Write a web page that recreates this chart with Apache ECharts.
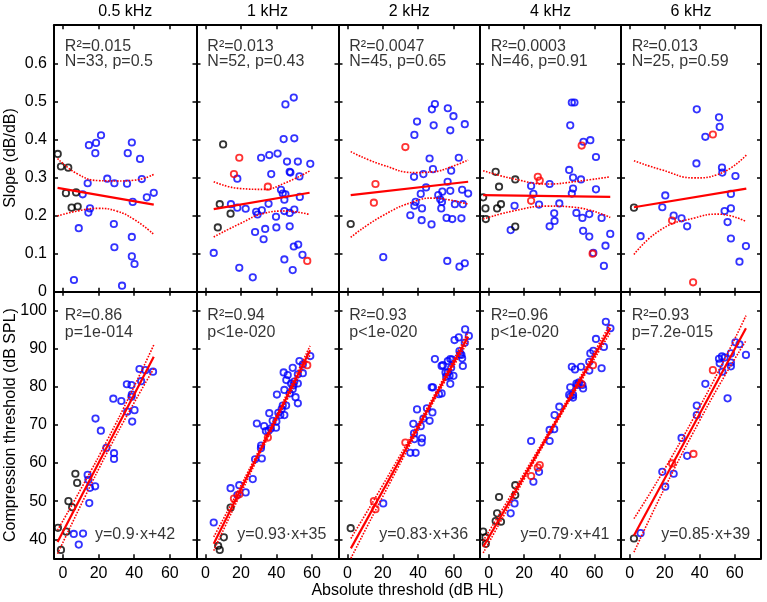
<!DOCTYPE html>
<html><head><meta charset="utf-8">
<script src="https://cdn.jsdelivr.net/npm/echarts@6/dist/echarts.min.js"></script>
<style>html,body{margin:0;padding:0;background:#fff}#c{width:767px;height:602px}</style>
</head><body><div id="c"></div>
<script>
const frequencies = ['0.5 kHz','1 kHz','2 kHz','4 kHz','6 kHz'];

// ---------- Top row: slope (dB/dB) vs absolute threshold (dB HL) ----------
const slopeBlack = [
  [[-2.9,0.362],[-1.1,0.329],[3.0,0.326],[1.7,0.259],[7.4,0.261],[4.9,0.221],[8.3,0.224]],
  [[10.0,0.387],[8.1,0.230],[14.2,0.205],[7.0,0.169]],
  [[1.9,0.178]],
  [[-3.2,0.248],[-1.9,0.219],[-1.7,0.191],[3.9,0.315],[5.8,0.276],[4.7,0.219],[6.9,0.230],[15.0,0.295],[15.0,0.171]],
  [[2.4,0.221]]
];
const slopeRed = [
  [],
  [[19.1,0.352],[16.1,0.309],[35.2,0.276],[57.4,0.081]],
  [[15.9,0.283],[15.0,0.234],[32.8,0.380]],
  [[27.8,0.302],[28.9,0.292],[24.0,0.239],[52.7,0.384],[58.9,0.100]],
  [[47.5,0.413],[24.2,0.187],[36.2,0.025]]
];
const slopeBlue = [
  [[6.2,0.031],[8.9,0.167],[11.1,0.256],[14.3,0.208],[15.2,0.219],[13.9,0.285],[14.6,0.385],[18.6,0.391],[18.2,0.364],[21.4,0.411],[24.9,0.297],[28.9,0.285],[28.6,0.178],[28.9,0.117],[33.2,0.016],[36.4,0.364],[38.7,0.392],[36.0,0.284],[39.2,0.236],[38.7,0.144],[38.7,0.093],[40.2,0.073],[43.3,0.349],[44.3,0.296],[47.1,0.248],[51.0,0.260]],
  [[4.7,0.102],[14.4,0.230],[18.0,0.221],[22.7,0.218],[18.0,0.297],[19.1,0.063],[26.7,0.038],[28.6,0.210],[29.4,0.203],[31.8,0.214],[28.0,0.157],[33.7,0.165],[32.8,0.138],[31.4,0.352],[36.0,0.359],[40.7,0.363],[37.1,0.309],[35.6,0.231],[39.8,0.197],[40.0,0.169],[42.6,0.268],[43.6,0.258],[45.1,0.256],[44.5,0.242],[44.5,0.212],[47.5,0.207],[50.1,0.216],[47.5,0.172],[44.1,0.401],[50.1,0.403],[45.1,0.492],[49.8,0.510],[46.0,0.342],[52.1,0.342],[47.5,0.315],[47.9,0.313],[53.0,0.303],[53.2,0.249],[59.1,0.336],[49.8,0.119],[52.3,0.124],[54.7,0.097],[44.5,0.085],[49.2,0.057]],
  [[20.3,0.091],[35.6,0.201],[37.9,0.226],[38.6,0.236],[37.7,0.302],[37.9,0.412],[39.4,0.447],[42.2,0.219],[42.0,0.188],[41.5,0.257],[43.0,0.309],[44.5,0.274],[46.5,0.350],[48.4,0.322],[47.6,0.177],[47.8,0.479],[49.5,0.493],[48.8,0.437],[51.4,0.254],[52.5,0.243],[53.7,0.263],[53.5,0.236],[53.1,0.219],[56.7,0.289],[56.8,0.482],[58.2,0.424],[58.2,0.265],[58.7,0.318],[56.1,0.194],[59.3,0.191],[60.0,0.461],[60.8,0.230],[56.5,0.081],[63.0,0.352],[64.5,0.193],[64.9,0.268],[65.3,0.230],[66.4,0.440],[68.3,0.258],[63.4,0.066],[66.4,0.075]],
  [[12.4,0.162],[14.6,0.226],[24.0,0.278],[25.3,0.257],[28.5,0.229],[34.5,0.283],[40.0,0.232],[37.1,0.206],[37.3,0.186],[34.5,0.172],[45.6,0.320],[47.8,0.300],[47.1,0.497],[48.6,0.497],[46.2,0.437],[47.8,0.271],[47.1,0.258],[49.7,0.207],[52.3,0.295],[53.1,0.194],[53.5,0.160],[53.7,0.394],[57.6,0.398],[57.0,0.204],[57.0,0.145],[59.3,0.102],[60.8,0.354],[60.8,0.269],[64.0,0.194],[68.9,0.152],[66.2,0.121],[65.3,0.068]],
  [[6.2,0.146],[20.3,0.253],[18.6,0.222],[25.1,0.200],[29.6,0.193],[32.8,0.172],[38.3,0.479],[38.1,0.337],[43.2,0.407],[51.0,0.458],[51.4,0.433],[52.7,0.326],[52.9,0.313],[60.4,0.304],[57.8,0.257],[54.2,0.212],[57.8,0.219],[55.9,0.183],[57.8,0.140],[66.4,0.120],[62.7,0.079]]
];
const slopeFitX = [[-3,51],[4.7,58.7],[1.9,68.3],[-3.2,68.9],[2.4,66.6]];
const slopeFitY = [[0.273,0.229],[0.217,0.260],[0.254,0.289],[0.254,0.249],[0.222,0.271]];
const slopeBandX = [[-3,8,20,30,40,51],[4.7,20,33,44.5,58.7],[1.9,20,39,48.4,58,68.3],[-3.2,14.6,33.4,48.4,68.9],[2.4,18.4,37.1,50.3,66.6]];
const slopeBandHi = [[0.350,0.310,0.292,0.291,0.293,0.308],[0.289,0.271,0.269,0.285,0.317],[0.368,0.333,0.313,0.315,0.327,0.346],[0.318,0.296,0.283,0.289,0.302],[0.344,0.320,0.299,0.308,0.359]];
const slopeBandLo = [[0.199,0.212,0.219,0.212,0.190,0.151],[0.144,0.180,0.206,0.212,0.203],[0.143,0.200,0.239,0.246,0.241,0.230],[0.191,0.213,0.225,0.222,0.195],[0.098,0.165,0.194,0.204,0.184]];
const slopeR2 = ['R²=0.015','R²=0.013','R²=0.0047','R²=0.0003','R²=0.013'];
const slopeNP = ['N=33, p=0.5','N=52, p=0.43','N=45, p=0.65','N=46, p=0.91','N=25, p=0.59'];

// ---------- Bottom row: compression threshold (dB SPL) vs absolute threshold ----------
const ctBlack = [
  [[-2.8,43.0],[-1.1,37.2],[1.9,42.0],[3.1,50.0],[5.2,48.4],[7.0,57.2],[8.0,54.8]],
  [[7.2,38.3],[8.1,37.2],[10.4,40.5],[14.2,48.3]],
  [[1.9,42.9]],
  [[-3.2,42.0],[-1.9,40.5],[-1.7,38.8],[3.9,44.8],[5.8,51.1],[4.7,46.8],[6.9,44.6],[15.0,54.2],[15.0,51.6]],
  [[2.4,40.2]]
];
const ctRed = [
  [],
  [[19.1,51.8],[16.1,50.7],[35.2,66.7],[57.4,85.7]],
  [[15.0,50.0],[15.9,47.9],[32.8,65.4]],
  [[27.8,58.8],[28.9,59.5],[24.0,56.6],[52.5,80.8],[59.1,85.7]],
  [[47.5,84.4],[24.2,59.9],[36.4,62.4]]
];
const ctBlue = [
  [[6.1,41.4],[11.3,41.5],[8.9,38.6],[13.9,56.9],[14.3,55.6],[15.2,53.5],[18.1,53.9],[14.8,49.5],[18.3,71.7],[21.3,68.5],[24.4,64.0],[28.7,62.6],[28.7,61.1],[28.3,76.9],[32.8,76.3],[35.9,80.7],[36.1,73.5],[38.5,80.5],[38.7,78.0],[38.5,77.4],[38.9,70.9],[40.2,73.9],[43.0,84.7],[43.9,81.5],[46.3,84.4],[50.6,84.0]],
  [[4.7,44.4],[14.2,53.4],[19.1,54.2],[22.7,52.3],[18.0,51.6],[26.7,55.8],[28.0,61.0],[31.8,61.2],[31.4,64.6],[29.0,70.4],[33.1,69.7],[36.0,73.1],[35.6,68.5],[37.9,71.1],[39.8,69.3],[40.0,70.9],[40.3,78.0],[43.0,74.2],[44.1,83.8],[44.5,72.6],[45.5,75.1],[44.5,79.2],[46.4,83.1],[47.5,78.3],[49.2,85.0],[50.1,81.4],[49.2,79.4],[50.8,77.3],[52.1,75.7],[52.1,80.9],[52.1,83.3],[54.9,83.6],[53.0,86.8],[54.9,85.9],[59.1,88.1],[48.3,80.9],[43.6,75.1],[34.1,68.4],[41.1,73.2],[49.6,80.4],[42.2,72.6],[45.6,81.8],[36.9,69.1],[31.3,63.9]],
  [[20.3,49.4],[35.6,62.7],[38.6,62.7],[37.9,66.3],[37.7,67.8],[39.4,74.1],[37.3,70.3],[42.2,66.5],[42.0,65.4],[41.5,69.7],[43.0,71.7],[45.0,74.4],[46.5,71.1],[48.1,73.3],[47.7,79.9],[48.4,79.9],[49.5,87.3],[51.8,78.1],[53.3,78.3],[53.3,85.5],[54.0,85.7],[56.8,86.8],[58.2,87.3],[58.7,85.0],[57.8,82.9],[58.2,80.8],[60.0,82.9],[55.9,82.7],[55.5,83.8],[56.8,83.8],[59.3,87.2],[60.6,92.3],[63.0,93.0],[63.8,88.6],[64.9,87.5],[65.3,85.5],[66.6,95.1],[66.4,91.6],[68.7,93.4],[63.4,89.4],[64.5,88.4]],
  [[12.4,46.8],[14.6,49.4],[24.0,65.8],[25.3,55.1],[28.5,57.7],[34.5,65.8],[34.5,68.7],[37.1,68.9],[37.3,72.6],[40.0,74.8],[45.6,77.9],[46.2,79.9],[47.8,77.2],[47.1,85.3],[48.9,84.6],[47.8,77.9],[49.7,80.9],[52.3,85.3],[53.1,80.5],[53.5,79.6],[57.0,86.6],[57.0,84.3],[57.6,88.8],[59.3,89.5],[60.8,92.6],[64.0,84.9],[65.3,90.5],[66.4,97.1],[69.0,95.4],[50.3,80.5],[51.2,81.2],[46.5,77.6]],
  [[6.2,41.6],[18.6,57.7],[20.3,53.8],[25.1,57.2],[29.6,66.6],[32.8,61.9],[38.3,72.6],[38.3,75.1],[43.2,80.8],[51.0,87.4],[51.4,86.2],[52.7,88.0],[52.9,84.0],[54.2,87.7],[55.9,77.0],[57.8,88.8],[57.8,86.4],[57.8,85.4],[60.4,91.7],[62.7,91.2],[66.4,88.4]]
];
const ctFitX = [[-3,51],[4.7,59],[2,68.3],[-3.2,69],[2.4,66.4]];
const ctFitY = [[39.3,87.9],[38.8,89.6],[37.6,93.2],[38.0,95.5],[41.0,95.4]];
const ctBandX = [[-3,12,25,38,51],[4.7,20,38,59],[2,20,48,68.3],[-3.2,20,45,69],[2.4,20,40,55,66.4]];
const ctBandHi = [[42.4,54.8,66.1,78.2,91.0],[40.6,54.1,70.65,90.8],[40.2,54.2,76.9,94.4],[39.6,57.3,77.0,96.7],[45.4,58.5,74.8,88.0,98.7]];
const ctBandLo = [[36.2,50.8,62.9,74.2,84.8],[37.0,52.1,69.25,88.4],[35.0,51.2,75.5,92.0],[36.4,55.7,75.8,94.3],[36.6,53.5,71.2,83.5,92.1]];
const ctR2 = ['R²=0.86','R²=0.94','R²=0.93','R²=0.96','R²=0.93'];
const ctP = ['p=1e-014','p<1e-020','p<1e-020','p<1e-020','p=7.2e-015'];
const ctEq = ['y=0.9·x+42','y=0.93·x+35','y=0.83·x+36','y=0.79·x+41','y=0.85·x+39'];

const xLabel = 'Absolute threshold (dB HL)';
const yLabelTop = 'Slope (dB/dB)';
const yLabelBottom = 'Compression threshold (dB SPL)';

// ---------- layout / styles ----------
const FONT = '"Liberation Sans", Arial, Helvetica, sans-serif';
const BLUE = '#0000ff', RED = '#ff0000', BLACK = '#000000';
const colLeft = [54, 196.5, 338.5, 480, 621];
const colRight = [196.5, 338.5, 480, 621, 761];
const rowTop = [25.2, 291.7];
const rowH = 266.6;

const grids = [], xAxes = [], yAxes = [], series = [];
const zip = (xs, ys) => xs.map((x, i) => [x, ys[i]]);

function axisCommon(showLabel, extra) {
  return Object.assign({
    type: 'value',
    axisLine: {show: true, onZero: false, lineStyle: {color: BLACK, width: 2}},
    axisTick: {show: true, inside: true, length: 4, lineStyle: {color: BLACK, width: 1.5}},
    splitLine: {show: false},
    axisLabel: {show: showLabel, color: BLACK, fontSize: 16, fontFamily: FONT, margin: 7,
                showMinLabel: false, showMaxLabel: false}
  }, extra);
}

for (let r = 0; r < 2; r++) {
  for (let c = 0; c < 5; c++) {
    const g = r * 5 + c;
    grids.push({left: colLeft[c], top: rowTop[r], width: colRight[c] - colLeft[c], height: rowH});
    const xr = {min: -5, max: 75, splitNumber: 4, gridIndex: g};
    xAxes.push(axisCommon(r === 1, Object.assign({position: 'bottom'}, xr)));
    xAxes.push(axisCommon(false, Object.assign({position: 'top'}, xr)));
    const yr = r === 0 ? {min: 0, max: 0.7, interval: 0.1, gridIndex: g}
                       : {min: 35, max: 105, splitNumber: 7, gridIndex: g};
    const yl = axisCommon(c === 0, Object.assign({position: 'left'}, yr));
    if (r === 0) { yl.axisLabel.showMinLabel = true; }
    yAxes.push(yl);
    yAxes.push(axisCommon(false, Object.assign({position: 'right'}, yr)));

    const black = r === 0 ? slopeBlack[c] : ctBlack[c];
    const red = r === 0 ? slopeRed[c] : ctRed[c];
    const blue = r === 0 ? slopeBlue[c] : ctBlue[c];
    const ax = {xAxisIndex: 2 * g, yAxisIndex: 2 * g};
    [[blue, BLUE], [black, BLACK], [red, RED]].forEach(([d, col]) => {
      if (!d.length) return;
      series.push(Object.assign({
        type: 'scatter', data: d, symbol: 'circle', symbolSize: 6.4, silent: true,
        itemStyle: {color: 'rgba(0,0,0,0)', borderColor: col, borderWidth: 1.8}
      }, ax));
    });
    const fx = r === 0 ? slopeFitX[c] : ctFitX[c];
    const fy = r === 0 ? slopeFitY[c] : ctFitY[c];
    const bx = r === 0 ? slopeBandX[c] : ctBandX[c];
    const bh = r === 0 ? slopeBandHi[c] : ctBandHi[c];
    const bl = r === 0 ? slopeBandLo[c] : ctBandLo[c];
    series.push(Object.assign({type: 'line', data: zip(fx, fy), showSymbol: false, silent: true,
      lineStyle: {color: RED, width: 2.2}}, ax));
    [bh, bl].forEach(b => series.push(Object.assign({type: 'line', data: zip(bx, b), showSymbol: false,
      silent: true, smooth: 0.5, lineStyle: {color: RED, width: 1.6, type: [1.6, 1.4]}}, ax)));

    const lab = (txt) => ({show: true, position: 'right', distance: 0, formatter: txt,
      color: BLACK, fontSize: 16, fontFamily: FONT, align: 'left', verticalAlign: 'middle'});
    const ann = r === 0
      ? [[1.1, 0.6436, slopeR2[c]], [1.1, 0.6041, slopeNP[c]]]
      : [[1.1, 98.8, ctR2[c]], [1.1, 94.2, ctP[c]], [18, 41.3, ctEq[c]]];
    series.push(Object.assign({type: 'scatter', symbolSize: 0, silent: true,
      data: ann.map(a => ({value: [a[0], a[1]], label: lab(a[2])}))}, ax));
  }
}

const graphics = [];
frequencies.forEach((f, c) => graphics.push({type: 'text', x: (colLeft[c] + colRight[c]) / 2, y: 12,
  style: {text: f, fill: BLACK, fontSize: 16, fontFamily: FONT, textAlign: 'center', textVerticalAlign: 'middle'}}));
graphics.push({type: 'text', x: 11, y: 158, rotation: Math.PI / 2,
  style: {text: yLabelTop, fill: BLACK, fontSize: 16, fontFamily: FONT, textAlign: 'center', textVerticalAlign: 'middle'}});
graphics.push({type: 'text', x: 11, y: 425, rotation: Math.PI / 2,
  style: {text: yLabelBottom, fill: BLACK, fontSize: 16, fontFamily: FONT, textAlign: 'center', textVerticalAlign: 'middle'}});
graphics.push({type: 'text', x: 407.5, y: 591,
  style: {text: xLabel, fill: BLACK, fontSize: 16, fontFamily: FONT, textAlign: 'center', textVerticalAlign: 'middle'}});

const chart = echarts.init(document.getElementById('c'), null, {renderer: 'canvas'});
chart.setOption({
  animation: false,
  backgroundColor: '#ffffff',
  grid: grids, xAxis: xAxes, yAxis: yAxes, series: series, graphic: graphics
});
</script></body></html>
